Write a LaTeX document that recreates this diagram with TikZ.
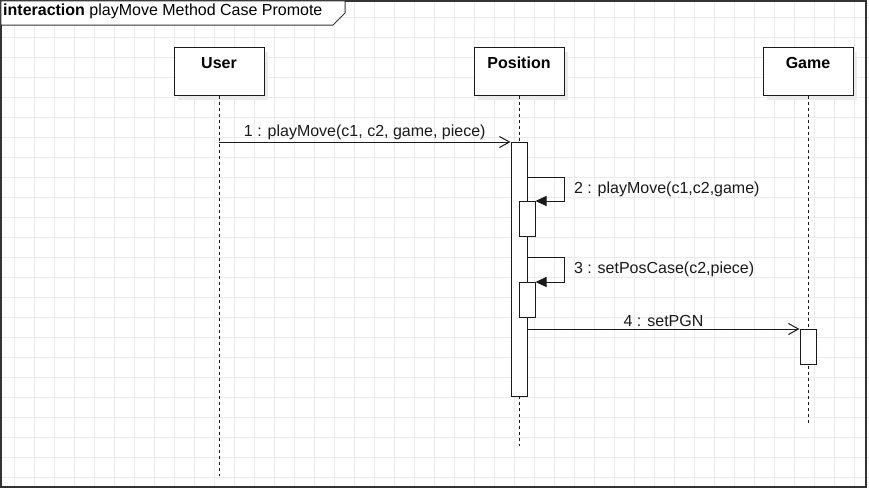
\documentclass[tikz,border=0pt]{standalone}
\usepackage{fontspec}
\setmainfont{Liberation Sans}
\usetikzlibrary{arrows.meta, positioning, calc, shadows}
\definecolor{gridGray}{HTML}{EBEBEB}
\definecolor{frameGray}{HTML}{333333}
\definecolor{lineDark}{HTML}{1A1A1A}

\begin{document}
\begin{tikzpicture}[x=1pt, y=-1pt,
    head/.style={rectangle, draw=lineDark, fill=white, line width=1pt,
                 minimum width=90pt, text height=15pt, text depth=21pt, inner ysep=6pt,
                 font=\fontsize{16}{19}\selectfont\bfseries,
                 drop shadow={shadow xshift=4pt, shadow yshift=-5pt, fill=black!8, opacity=1}},
    act/.style={rectangle, draw=lineDark, fill=white, line width=1pt,
                minimum width=16pt, inner sep=0pt, anchor=north},
    life/.style={lineDark, line width=1pt, dash pattern=on 3pt off 3pt},
    msg/.style={-{Straight Barb[length=10pt, width=11pt]}, lineDark, line width=1pt},
    selfmsg/.style={-{Triangle[length=11pt, width=10pt]}, lineDark, line width=1pt},
    msglabel/.style={font=\fontsize{16}{19}\selectfont, text=lineDark, inner sep=2pt},
    gridline/.style={gridGray, line width=0.7pt}
  ]
    \useasboundingbox (0,0) rectangle (869,488);
    \fill[white] (0,0) rectangle (869,488);
    \foreach \x in {14,34,...,854}
      \draw[gridline] (\x,0) -- (\x,488);
    \foreach \y in {17,37,...,477}
      \draw[gridline] (0,\y) -- (869,\y);

    \draw[frameGray, line width=1.5pt] (0.75,0.75) rectangle (866,487);
    \draw[frameGray, fill=white, line width=1pt] (0.75,0.75) -- (345,0.75) -- (345,13)
      -- (333,25) -- (0.75,25) -- cycle;
    \node[anchor=base west, inner sep=0pt, font=\fontsize{16}{19}\selectfont] (title)
      at (3,15) {\textbf{interaction} playMove Method Case Promote};

    \node[head] (user) at (219,71) {User};
    \node[head] (position) at (519,71) {Position};
    \node[head] (game) at (808,71) {Game};

    \draw[life] (user.south) -- (user.south |- 0,476);
    \draw[life] (position.south) -- (position.south |- 0,446);
    \draw[life] (game.south) -- (game.south |- 0,423);

    \node[act, minimum height=254pt] (posAct) at (519,142) {};
    \node[act, minimum height=35pt] (posAct2) at (527,201) {};
    \node[act, minimum height=35pt] (posAct3) at (527,282) {};
    \node[act, minimum height=35pt] (gameAct) at (808,329) {};

    \coordinate (m1) at (219,142);
    \draw[msg] (m1) -- node[above, msglabel] {1 : playMove(c1, c2, game, piece)}
      (posAct.north west);
    \draw[selfmsg] (posAct.east |- 0,177) -- ++(37,0)
      |- node[pos=0.25, right=7pt, msglabel] {2 : playMove(c1,c2,game)} (posAct2.north east);
    \draw[selfmsg] (posAct.east |- 0,257) -- ++(37,0)
      |- node[pos=0.25, right=7pt, msglabel] {3 : setPosCase(c2,piece)} (posAct3.north east);
    \draw[msg] (posAct.east |- gameAct.north) -- node[above, msglabel] {4 : setPGN}
      (gameAct.north west);
  \end{tikzpicture}
\end{document}
